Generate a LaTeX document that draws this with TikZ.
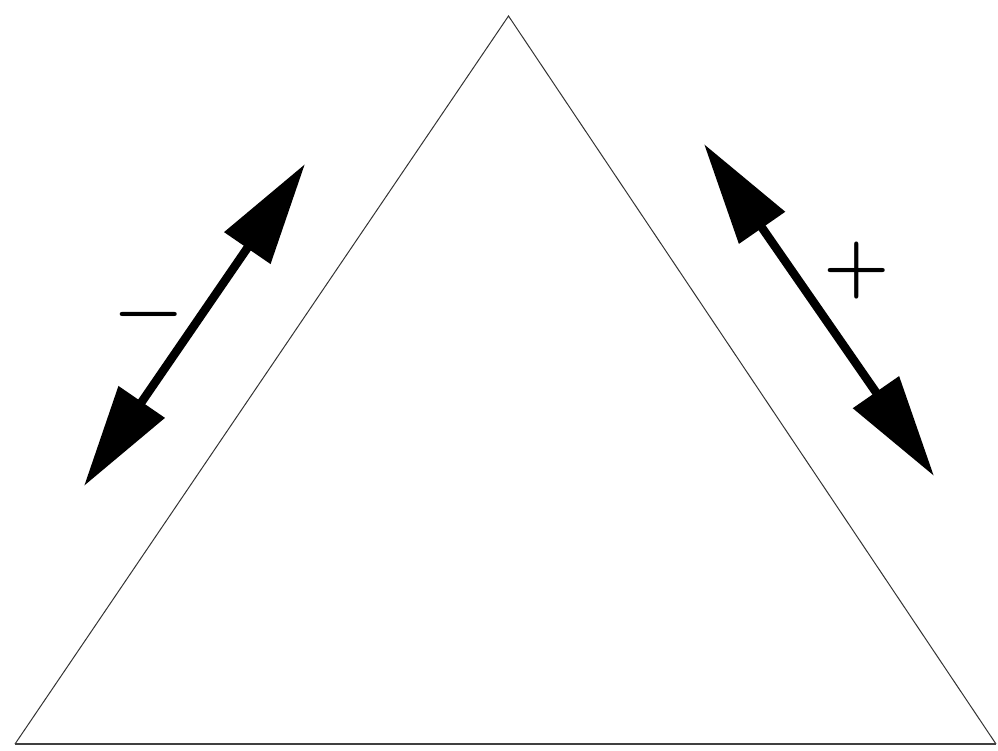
\documentclass[tikz,border=0pt]{standalone}
\usetikzlibrary{arrows.meta}
\begin{document}
\begin{tikzpicture}[x=1pt,y=-1pt,
  side/.style={line width=1pt,draw=black!80},
  basel/.style={line width=2pt,draw=black!75},
  dblarrow/.style={line width=8.5pt,{Triangle[length=102pt,width=54pt]}-{Triangle[length=102pt,width=54pt]}},
  sign/.style={inner sep=0pt,font=\fontsize{76}{76}\selectfont\bfseries}]
\useasboundingbox[fill=white] (0,0) rectangle (998,750);
\coordinate (apex) at (508.5,16);
\coordinate (bl) at (15,744);
\coordinate (br) at (996,744);
\draw[side] (bl) -- (apex) -- (br);
\draw[basel] (bl) -- (br);
\coordinate (la) at (84,486);
\coordinate (lb) at (305,164);
\coordinate (ra) at (704,144);
\coordinate (rb) at (934,476);
\draw[dblarrow] (la) -- (lb);
\draw[dblarrow] (ra) -- (rb);
\node[sign] (minus) at (149,323) {−};
\node[sign] (plus) at (857,271) {+};
\end{tikzpicture}
\end{document}
